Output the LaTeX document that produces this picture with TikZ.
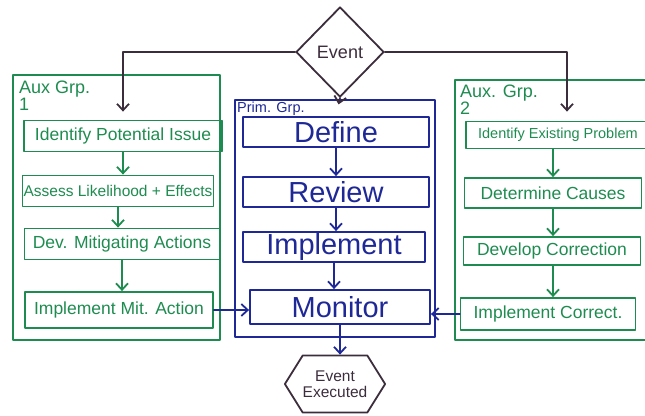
\documentclass[tikz,border=0pt]{standalone}
\usepackage{fontspec}
\setmainfont{Liberation Sans}
\usetikzlibrary{arrows.meta,shapes.geometric,shapes.symbols}
\definecolor{pengreen}{RGB}{30,140,80}
\definecolor{penblue}{RGB}{30,40,150}
\definecolor{penink}{RGB}{60,45,60}

\begin{document}
\begin{tikzpicture}[x=1pt,y=-1pt,
  pen/.style={line width=1.8pt, line join=round, line cap=round},
  tip/.style={-{Straight Barb[length=6.5pt,width=12pt]}},
  grpbox/.style={pen, draw, rectangle, inner sep=0pt},
  grplabel/.style={anchor=north west, align=left, inner sep=0pt, font=\fontsize{18}{17}\selectfont},
  auxstep/.style={pen, draw=pengreen, text=pengreen, rectangle, minimum height=31pt,
    inner sep=1pt, font=\fontsize{17.5}{19}\selectfont},
  primstep/.style={pen, draw=penblue, text=penblue, rectangle, minimum width=186pt,
    minimum height=30pt, inner sep=1pt, font=\fontsize{29}{30}\selectfont},
  auxflow/.style={pen, tip, pengreen},
  primflow/.style={pen, tip, penblue},
  eventflow/.style={pen, tip, penink}
]
\useasboundingbox (0,0) rectangle (645,415);

% group frames
\node[grpbox, draw=pengreen, minimum width=207pt, minimum height=265pt] (aux1) at (116.5,207.5) {};
\node[grpbox, draw=penblue, minimum width=200pt, minimum height=237pt] (prim) at (335,218.5) {};
\node[grpbox, draw=pengreen, minimum width=215pt, minimum height=260pt] (aux2) at (562.5,210) {};

\node[grplabel, text=pengreen] (aux1lbl) at (19,81) {Aux Grp.\\1};
\node[grplabel, text=penblue, font=\fontsize{14.5}{14}\selectfont] (primlbl) at (237,102) {Prim. Grp.};
\node[grplabel, text=pengreen] (aux2lbl) at (460,85) {Aux. Grp.\\2};

% trigger and outcome
\node[diamond, pen, draw=penink, fill=white, text=penink, minimum width=88pt, minimum height=90pt,
  inner sep=0pt, font=\fontsize{18}{18}\selectfont] (ev) at (340,52) {Event};
\node[signal, signal to=east and west, signal pointer angle=116, pen, draw=penink, text=penink,
  minimum width=97pt, minimum height=57pt, inner sep=0pt, align=center,
  font=\fontsize{15.5}{16}\selectfont] (done) at (335,384) {Event\\Executed};

% auxiliary group 1
\node[auxstep, minimum width=198pt] (l1) at (123,136) {Identify Potential Issue};
\node[auxstep, minimum width=191pt, font=\fontsize{15.5}{17}\selectfont] (l2) at (118,191) {Assess Likelihood + Effects};
\node[auxstep, minimum width=195pt] (l3) at (122,244) {Dev. Mitigating Actions};
\node[auxstep, minimum width=188pt, minimum height=36pt] (l4) at (119,310) {Implement Mit. Action};

% primary group
\node[primstep] (c1) at (336,132) {Define};
\node[primstep] (c2) at (336,192) {Review};
\node[primstep, minimum width=182pt] (c3) at (334,247) {Implement};
\node[primstep, minimum width=180pt, minimum height=34pt] (c4) at (340,307) {Monitor};

% auxiliary group 2
\node[auxstep, anchor=west, minimum width=184pt, minimum height=27pt,
  font=\fontsize{14.5}{17}\selectfont] (r1) at (465,135) {Identify Existing Problem};
\node[auxstep, minimum width=177pt, minimum height=30pt] (r2) at (553,193) {Determine Causes};
\node[auxstep, minimum width=177pt, minimum height=28pt] (r3) at (552,251) {Develop Correction};
\node[auxstep, minimum width=175pt, minimum height=32pt] (r4) at (548,314) {Implement Correct.};

% event fan-out
\draw[eventflow, shorten >=8pt] (ev.west) -| (l1.north);
\draw[eventflow, shorten >=9pt] (ev.east) -| ([xshift=102pt]r1.north west);
\draw[eventflow, shorten >=12pt] (ev.south) -- (c1.north);

% step sequences
\foreach \a/\b in {l1/l2, l2/l3, l3/l4} \draw[auxflow] (\a.south) -- (\a.south |- \b.north);
\foreach \a/\b in {r1/r2, r2/r3, r3/r4} \draw[auxflow] (r2.north |- \a.south) -- (r2.north |- \b.north);
\foreach \a/\b in {c1/c2, c2/c3, c3/c4} \draw[primflow] (\a.south) -- (\a.south |- \b.north);

% hand-offs into monitoring and completion
\draw[primflow] (l4.east) -- (l4.east -| c4.west);
\draw[primflow] (r4.west) -- (r4.west -| c4.east);
\draw[primflow] (c4.south) -- (c4.south |- done.north);
\end{tikzpicture}
\end{document}
